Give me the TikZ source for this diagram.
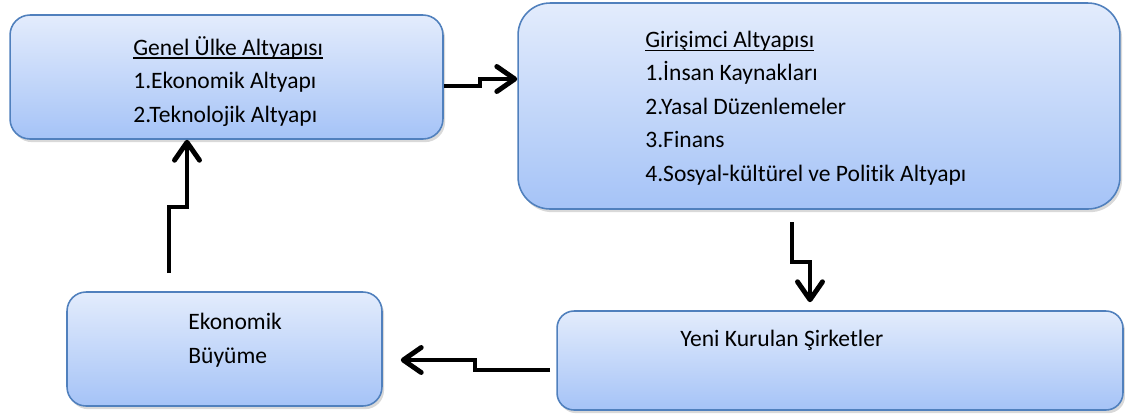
\documentclass[tikz,border=0pt]{standalone}
\usepackage{fontspec}
\setmainfont[Ligatures=NoCommon]{Carlito}
\usetikzlibrary{arrows.meta,shadows}

\definecolor{kutuust}{RGB}{227,236,252}
\definecolor{kutualt}{RGB}{165,195,247}
\definecolor{kutucizgi}{RGB}{80,128,189}

\newcommand\cizgili[1]{\setbox0\hbox{#1}\rlap{\rule[-2pt]{\wd0}{0.8pt}}#1}

\begin{document}
\begin{tikzpicture}[x=0.02cm, y=-0.02cm,
	kutu/.style={draw=kutucizgi, line width=0.9pt, top color=kutuust, bottom color=kutualt,
		inner sep=0pt, drop shadow={shadow xshift=1.2pt, shadow yshift=-1.8pt, opacity=0.3}},
	yazi/.style={font=\fontsize{13.4}{19}\selectfont, align=left, inner sep=0pt, anchor=base west},
	ok/.style={line width=2.8pt, -{Straight Barb[length=3.6mm, width=5mm, round]}}]
	\useasboundingbox (0,0) rectangle (1125,414);

	% Draw boxes
	\node[kutu, minimum width=8.66cm, minimum height=2.48cm, rounded corners=0.4cm] (genel) at (226.5,77) {};
	\node[kutu, minimum width=12.04cm, minimum height=4.12cm, rounded corners=0.64cm] (girisim) at (819,106) {};
	\node[kutu, minimum width=6.3cm, minimum height=2.28cm, rounded corners=0.38cm] (buyume) at (224.5,349) {};
	\node[kutu, minimum width=11.32cm, minimum height=1.98cm, rounded corners=0.34cm] (yeni) at (840,360.5) {};

	% Draw texts (anchored at the baseline of the last line)
	\node[yazi] (genel-yazi) at (133,122) {\cizgili{Genel Ülke Altyapısı}\\1.Ekonomik Altyapı\\2.Teknolojik Altyapı};
	\node[yazi] (girisim-yazi) at (645,181) {\cizgili{Girişimci Altyapısı}\\1.İnsan Kaynakları\\2.Yasal Düzenlemeler\\3.Finans\\4.Sosyal-kültürel ve Politik Altyapı};
	\node[yazi] (buyume-yazi) at (188,363) {Ekonomik\\Büyüme};
	\node[yazi] (yeni-yazi) at (680,346) {Yeni Kurulan Şirketler};

	% Draw arrows
	\coordinate (ok1) at (480,79);
	\draw[ok] ([yshift=-0.18cm]genel.east) -| (ok1) -- (ok1 -| girisim.west);

	\coordinate (ok2a) at (792,222);
	\coordinate (ok2b) at (810,262);
	\draw[ok] (ok2a) |- (ok2b) -- ([yshift=0.16cm]ok2b |- yeni.north);

	\coordinate (ok3a) at (550,370);
	\coordinate (ok3b) at (475,360);
	\draw[ok] (ok3a) -| (ok3b) -- ([xshift=0.36cm]ok3b -| buyume.east);

	\coordinate (ok4a) at (169,273);
	\coordinate (ok4b) at (187,207);
	\draw[ok] (ok4a) |- (ok4b) -- (ok4b |- genel.south);
\end{tikzpicture}
\end{document}
